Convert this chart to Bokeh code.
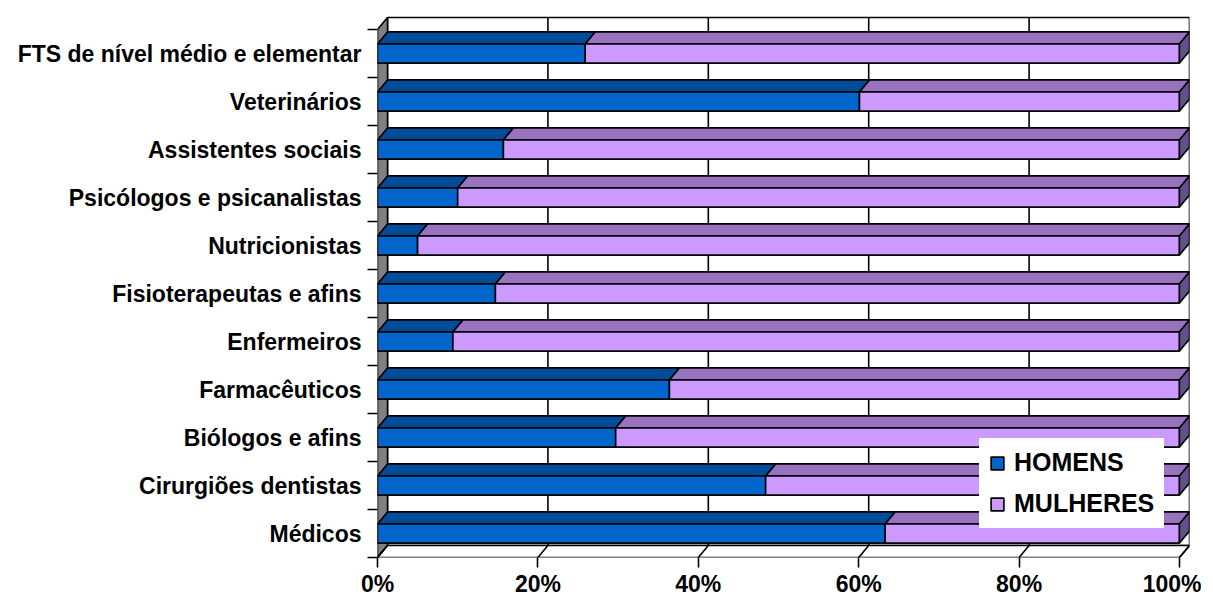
from bokeh.plotting import figure
from bokeh.models import Range1d, FixedTicker, Legend, LegendItem
from bokeh.embed import file_html
from bokeh.resources import INLINE

# ---------------- data ----------------
categories = ["Médicos", "Cirurgiões dentistas", "Biólogos e afins", "Farmacêuticos",
              "Enfermeiros", "Fisioterapeutas e afins", "Nutricionistas",
              "Psicólogos e psicanalistas", "Assistentes sociais", "Veterinários",
              "FTS de nível médio e elementar"]
homens = [63.3, 48.4, 29.7, 36.4, 9.4, 14.7, 5.0, 10.0, 15.7, 60.1, 25.9]
mulheres = [36.7, 51.6, 70.3, 63.6, 90.6, 85.3, 95.0, 90.0, 84.3, 39.9, 74.1]
series_names = ["HOMENS", "MULHERES"]
x_ticks = [0, 20, 40, 60, 80, 100]
x_tick_labels = ["0%", "20%", "40%", "60%", "80%", "100%"]

# ---------------- style ----------------
DX, DY, HALF = 1.25, 0.25, 0.2
PX_PER_CAT = 48
FRAME_H = 545
FONT = "Liberation Sans"
FS = "23px"
BLUE, BLUE_TOP = "#0066CC", "#004C99"
LILAC, LILAC_TOP, LILAC_SIDE = "#CC99FF", "#9973BF", "#66508C"
LW = 1.6

n = len(categories)
total = [h + m for h, m in zip(homens, mulheres)]
xmax = max(total)

p = figure(frame_width=812, frame_height=FRAME_H,
           x_range=Range1d(0, xmax + DX), y_range=Range1d(0, FRAME_H / PX_PER_CAT),
           output_backend="svg", toolbar_location=None,
           min_border_left=377, min_border_right=12, min_border_top=12, min_border_bottom=0)
p.xgrid.visible = False
p.ygrid.visible = False
p.outline_line_color = None
p.background_fill_color = "white"
p.border_fill_color = "white"

# back wall
p.quad(left=[DX], right=[xmax + DX], bottom=[DY], top=[n + DY],
       fill_color="white", line_color="black", line_width=LW)
# back wall gridlines
inner = [t for t in x_ticks if 0 < t < xmax]
p.segment(x0=[t + DX for t in inner], y0=[DY] * len(inner),
          x1=[t + DX for t in inner], y1=[n + DY] * len(inner),
          line_color="black", line_width=LW)
# left wall
p.patch(x=[0, DX, DX, 0], y=[0, DY, n + DY, n],
        fill_color="#808080", line_color="black", line_width=LW)
# floor
p.patch(x=[0, xmax, xmax + DX, DX], y=[0, 0, DY, DY],
        fill_color="white", line_color="black", line_width=LW)
p.segment(x0=x_ticks, y0=[0] * len(x_ticks), x1=[t + DX for t in x_ticks],
          y1=[DY] * len(x_ticks), line_color="black", line_width=LW)

# bars
centers = [i + 0.5 for i in range(n)]
lefts = [[0] * n, homens]
rights = [homens, total]
fronts = [BLUE, LILAC]
tops = [BLUE_TOP, LILAC_TOP]
renderers = []
for s in range(2):
    txs, tys = [], []
    for i in range(n):
        l, r, c = lefts[s][i], rights[s][i], centers[i]
        txs.append([l, r, r + DX, l + DX])
        tys.append([c + HALF, c + HALF, c + HALF + DY, c + HALF + DY])
    p.patches(xs=txs, ys=tys, fill_color=tops[s], line_color="black", line_width=LW)
    r = p.quad(left=lefts[s], right=rights[s], bottom=[c - HALF for c in centers],
               top=[c + HALF for c in centers], fill_color=fronts[s],
               line_color="black", line_width=LW)
    renderers.append(r)
# right end faces
sxs, sys_ = [], []
for i in range(n):
    r, c = total[i], centers[i]
    sxs.append([r, r + DX, r + DX, r])
    sys_.append([c - HALF, c - HALF + DY, c + HALF + DY, c + HALF])
p.patches(xs=sxs, ys=sys_, fill_color=LILAC_SIDE, line_color="black", line_width=LW)

# axes
xa = p.xaxis[0]
xa.ticker = FixedTicker(ticks=x_ticks)
xa.major_label_overrides = {t: l for t, l in zip(x_ticks, x_tick_labels)}
xa.axis_line_color = None
xa.major_tick_in = 0
xa.major_tick_out = 10
xa.major_tick_line_color = "black"
xa.major_tick_line_width = LW
xa.minor_tick_line_color = None
xa.major_label_standoff = 3
xa.major_label_text_font = FONT
xa.major_label_text_font_style = "bold"
xa.major_label_text_font_size = FS
xa.major_label_text_color = "black"

ya = p.yaxis[0]
ya.ticker = FixedTicker(ticks=centers, minor_ticks=list(range(n + 1)))
ya.major_label_overrides = {c: cat for c, cat in zip(centers, categories)}
ya.axis_line_color = None
ya.major_tick_line_color = None
ya.major_tick_in = 0
ya.major_tick_out = 0
ya.minor_tick_in = 0
ya.minor_tick_out = 10
ya.minor_tick_line_color = "black"
ya.minor_tick_line_width = LW
ya.major_label_standoff = 6
ya.major_label_text_font = FONT
ya.major_label_text_font_style = "bold"
ya.major_label_text_font_size = FS
ya.major_label_text_color = "black"

legend = Legend(items=[LegendItem(label=series_names[k], renderers=[renderers[k]]) for k in range(2)],
                location=(602, 29))
legend.background_fill_color = "white"
legend.background_fill_alpha = 1.0
legend.border_line_color = "white"
legend.border_line_width = 2
legend.label_text_font = FONT
legend.label_text_font_style = "bold"
legend.label_text_font_size = "25px"
legend.label_text_color = "black"
legend.glyph_width = 16
legend.glyph_height = 16
legend.label_width = 136
legend.label_standoff = 9
legend.padding = 8
legend.spacing = 12
legend.margin = 0
p.add_layout(legend)

open("out.html", "w").write(file_html(p, INLINE))
